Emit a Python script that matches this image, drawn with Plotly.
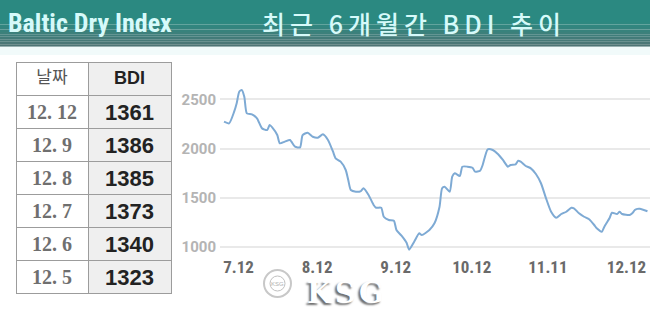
import subprocess
import plotly.graph_objects as go

# ---- data ----
dates = [
    "2022-06-28", "2022-06-30", "2022-07-02", "2022-07-03", "2022-07-04", "2022-07-05",
    "2022-07-06", "2022-07-07", "2022-07-09", "2022-07-11", "2022-07-13", "2022-07-15",
    "2022-07-16", "2022-07-17", "2022-07-19", "2022-07-20", "2022-07-22", "2022-07-24",
    "2022-07-26", "2022-07-28", "2022-07-29", "2022-07-31", "2022-08-02", "2022-08-04",
    "2022-08-06", "2022-08-08", "2022-08-10", "2022-08-11", "2022-08-13", "2022-08-15",
    "2022-08-16", "2022-08-17", "2022-08-19", "2022-08-21", "2022-08-22", "2022-08-24",
    "2022-08-26", "2022-08-27", "2022-08-29", "2022-08-30", "2022-09-01", "2022-09-03",
    "2022-09-04", "2022-09-06", "2022-09-08", "2022-09-09", "2022-09-11", "2022-09-13",
    "2022-09-14", "2022-09-17", "2022-09-19", "2022-09-21", "2022-09-22", "2022-09-23",
    "2022-09-25", "2022-09-26", "2022-09-27", "2022-09-29", "2022-09-30", "2022-10-02",
    "2022-10-04", "2022-10-05", "2022-10-07", "2022-10-08", "2022-10-10", "2022-10-12",
    "2022-10-14", "2022-10-16", "2022-10-18", "2022-10-19", "2022-10-21", "2022-10-22",
    "2022-10-23", "2022-10-25", "2022-10-27", "2022-10-29", "2022-10-31", "2022-11-02",
    "2022-11-04", "2022-11-06", "2022-11-08", "2022-11-10", "2022-11-12", "2022-11-13",
    "2022-11-15", "2022-11-17", "2022-11-19", "2022-11-21", "2022-11-22", "2022-11-24",
    "2022-11-25", "2022-11-27", "2022-11-28", "2022-11-30", "2022-12-01", "2022-12-02",
    "2022-12-05", "2022-12-06", "2022-12-07", "2022-12-08", "2022-12-09", "2022-12-12",
]
bdi = [
    2273, 2256, 2375, 2460, 2578, 2596,
    2527, 2358, 2348, 2307, 2205, 2188,
    2239, 2216, 2137, 2053, 2070, 2087,
    2018, 2012, 2137, 2161, 2120, 2110,
    2144, 2087, 1967, 1900, 1866, 1781,
    1679, 1577, 1560, 1567, 1595, 1527,
    1425, 1397, 1397, 1305, 1272, 1265,
    1170, 1112, 1040, 970, 1051, 1136,
    1119, 1170, 1238, 1407, 1595, 1611,
    1560, 1713, 1747, 1720, 1815, 1815,
    1804, 1764, 1774, 1832, 1992, 1985,
    1944, 1883, 1815, 1832, 1839, 1876,
    1866, 1822, 1798, 1740, 1646, 1493,
    1356, 1295, 1333, 1356, 1397, 1391,
    1340, 1305, 1279, 1221, 1187, 1153,
    1204, 1289, 1346, 1333, 1356, 1333,
    1323, 1340, 1373, 1385, 1386, 1361,
]
x_tick_dates = ["2022-07-12", "2022-08-12", "2022-09-12", "2022-10-12", "2022-11-11", "2022-12-12"]
x_tick_labels = ["7.12", "8.12", "9.12", "10.12", "11.11", "12.12"]
y_tick_vals = [1000, 1500, 2000, 2500]

table_header = ["날짜", "BDI"]
table_dates = ["12. 12", "12. 9", "12. 8", "12. 7", "12. 6", "12. 5"]
table_values = [1361, 1386, 1385, 1373, 1340, 1323]

title_left = "Baltic Dry Index"
title_main = "최근 6개월간 BDI 추이"

W, H = 650, 310

# ---- pick a condensed font if one is installed ----
try:
    fams = subprocess.run(["fc-list", ":", "family"], capture_output=True,
                          text=True, timeout=20).stdout
except Exception:
    fams = ""
cond = None
for cand in ["Roboto Condensed", "Liberation Sans Narrow", "Noto Sans Condensed",
             "DejaVu Sans Condensed", "Open Sans Condensed"]:
    if cand in fams:
        cond = cand
        break
if cond:
    head_font, head_size = cond + ", Roboto", 26
    xt_font, xt_size = cond + ", Roboto", 17
else:
    head_font, head_size = "Roboto", 21
    xt_font, xt_size = "Roboto", 14

fig = go.Figure()

fig.add_trace(go.Scatter(
    x=dates, y=bdi, mode="lines",
    line=dict(color="#7eaad4", width=2, shape="spline", smoothing=0.6),
    hoverinfo="skip", showlegend=False,
))

fig.add_trace(go.Table(
    domain=dict(x=[16 / W, 171 / W], y=[0, 1 - 62.5 / H]),
    columnwidth=[72, 83],
    header=dict(
        values=table_header,
        height=33,
        fill=dict(color=["#ffffff", "#efefef"]),
        line=dict(color="#9c9c9c", width=1),
        align="center",
        font=dict(family=["Noto Sans CJK KR", "Liberation Sans"], size=[17, 18],
                  color=["#555555", "#222222"], weight=["normal", "bold"]),
    ),
    cells=dict(
        values=[table_dates, table_values],
        height=33,
        fill=dict(color=["#ffffff", "#efefef"]),
        line=dict(color="#9c9c9c", width=1),
        align="center",
        font=dict(family=["Liberation Serif", "Liberation Sans"], size=[20, 22],
                  color=["#6f6f6f", "#222222"], weight=["bold", "bold"]),
    ),
))

# header band with a vertical gradient
band_h = 46.7
shapes = []
top_col = (43, 137, 129)
bot_col = (80, 116, 116)
shapes.append(dict(type="rect", xref="paper", yref="paper", x0=0, x1=1,
                   y0=1 - 22 / H, y1=1, line=dict(width=0),
                   fillcolor="rgb(%d,%d,%d)" % top_col, layer="below"))
n = 10
for i in range(n):
    t = (i + 0.5) / n
    c = tuple(int(round(top_col[k] + (bot_col[k] - top_col[k]) * t)) for k in range(3))
    y_top = 22 + (band_h - 22) * i / n
    y_bot = 22 + (band_h - 22) * (i + 1) / n
    shapes.append(dict(type="rect", xref="paper", yref="paper", x0=0, x1=1,
                       y0=1 - y_bot / H, y1=1 - y_top / H, line=dict(width=0),
                       fillcolor="rgb(%d,%d,%d)" % c, layer="below"))
# faint tint below the band
shapes.append(dict(type="rect", xref="paper", yref="paper", x0=0, x1=1,
                   y0=1 - 55 / H, y1=1 - band_h / H, line=dict(width=0),
                   fillcolor="#f1fafa", layer="below"))
# watermark backdrop
shapes.append(dict(type="rect", xref="paper", yref="paper", x0=262 / W, x1=396 / W,
                   y0=1 - 306 / H, y1=1 - 277 / H, line=dict(width=0),
                   fillcolor="rgba(255,255,255,0.85)", layer="above"))
shapes.append(dict(type="circle", xref="paper", yref="paper",
                   x0=264 / W, x1=291 / W, y0=1 - 297 / H, y1=1 - 270 / H,
                   line=dict(color="#c8c8c8", width=2), fillcolor="rgba(255,255,255,0.9)",
                   layer="above"))
shapes.append(dict(type="circle", xref="paper", yref="paper",
                   x0=270 / W, x1=285 / W, y0=1 - 291 / H, y1=1 - 276 / H,
                   line=dict(color="#c0c0c0", width=1), fillcolor="white", layer="above"))

annotations = [
    dict(text=title_left, xref="paper", yref="paper", x=6 / W, y=1 - 23 / H,
         xanchor="left", yanchor="middle", showarrow=False,
         font=dict(family=head_font, size=head_size, color="#d6fafa", weight="bold")),
    dict(text="\u2009".join(list(title_main)), xref="paper", yref="paper",
         x=411 / W, y=1 - 23 / H, xanchor="center", yanchor="middle", showarrow=False,
         font=dict(family="Noto Sans CJK KR", size=25, color="#d6fafa", weight=500)),
    dict(text="K\u200aS\u200aG", xref="paper", yref="paper", x=346 / W, y=1 - 292.5 / H,
         xanchor="center", yanchor="middle", showarrow=False,
         font=dict(family="DejaVu Serif", size=29, color="#ffffff", weight="bold",
                   shadow="-2px 2px 2px #6f6f6f")),
    dict(text="KSG", xref="paper", yref="paper", x=277.5 / W, y=1 - 283.5 / H,
         xanchor="center", yanchor="middle", showarrow=False,
         font=dict(family="Liberation Sans", size=6, color="#b0b0b0")),
]

fig.update_layout(
    width=W, height=H,
    margin=dict(l=0, r=0, t=0, b=0),
    paper_bgcolor="white", plot_bgcolor="white",
    shapes=shapes, annotations=annotations,
    showlegend=False,
    xaxis=dict(
        domain=[220 / W, 1],
        type="date",
        range=["2022-06-26 10:00:00", "2022-12-13 00:00:00"],
        tickvals=x_tick_dates, ticktext=x_tick_labels,
        ticklabelshift=-21, ticklabeloverflow="allow",
        showgrid=False, zeroline=False, showline=False, ticks="",
        tickfont=dict(family=xt_font, size=xt_size, color="#6a6a6a", weight="bold"),
        fixedrange=True,
    ),
    yaxis=dict(
        domain=[55 / H, 1 - 80 / H],
        range=[915.5, 2697.6],
        tickvals=y_tick_vals,
        ticklabelstandoff=3,
        showgrid=True, gridcolor="#e9e9e9", gridwidth=1.5,
        zeroline=False, showline=False, ticks="",
        tickfont=dict(family="Roboto", size=15, color="#b4b4b4", weight="bold"),
        fixedrange=True,
    ),
)

fig.write_html("out.html")
